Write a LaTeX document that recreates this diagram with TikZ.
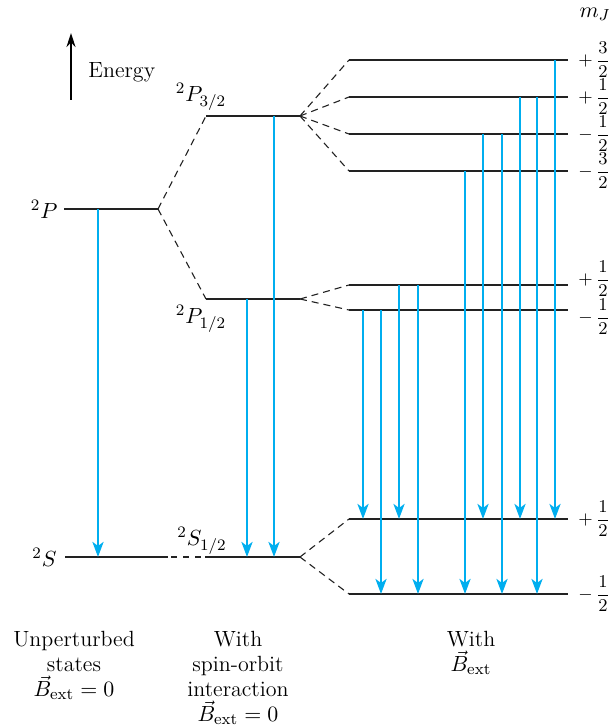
\documentclass[tikz,border=0pt]{standalone}
\usepackage{amsmath}
\usetikzlibrary{arrows.meta,positioning}
\definecolor{LineCyan}{HTML}{00AEEF}
\definecolor{LevelInk}{HTML}{222222}

\begin{document}
\begin{tikzpicture}[x=0.5pt, y=-0.5pt, node distance=3pt, every node/.style={font=\fontsize{11}{12.5}\selectfont, inner sep=0pt}]
\tikzstyle{level}=[draw=LevelInk, line width=0.8pt]
\tikzstyle{split}=[draw=LevelInk, line width=0.55pt, dash pattern=on 3.5pt off 2.5pt]
\tikzstyle{trans}=[draw=LineCyan, line width=1.4pt, -{Stealth[length=7.5pt,width=5.5pt,inset=2pt]}]
\tikzstyle{mjlab}=[font=\fontsize{9.5}{11}\selectfont]
\useasboundingbox (0,0) rectangle (610,727);
\coordinate (ebot) at (71,100);
\coordinate (etop) at (71,33);
\draw[line width=0.9pt, -{Stealth[length=7pt,width=4.5pt]}] (ebot) -- (etop);
\node[anchor=west] (energy) at (88,72) {Energy};
\coordinate (P) at (64,209);
\coordinate (P-e) at (158,209);
\coordinate (P32) at (206,116);
\coordinate (P32-e) at (300,116);
\coordinate (P12) at (206,299);
\coordinate (P12-e) at (300,299);
\coordinate (S) at (65,557);
\coordinate (S-e) at (168,557);
\coordinate (S12) at (205,557);
\coordinate (S12-e) at (300,557);
\coordinate (Ua) at (349,60);
\coordinate (Ua-e) at (568,60);
\coordinate (Ub) at (349,97);
\coordinate (Ub-e) at (568,97);
\coordinate (Uc) at (349,134);
\coordinate (Uc-e) at (568,134);
\coordinate (Ud) at (349,171);
\coordinate (Ud-e) at (568,171);
\coordinate (Ma) at (349,285);
\coordinate (Ma-e) at (568,285);
\coordinate (Mb) at (349,310);
\coordinate (Mb-e) at (568,310);
\coordinate (La) at (349,519);
\coordinate (La-e) at (568,519);
\coordinate (Lb) at (349,594);
\coordinate (Lb-e) at (568,594);
\draw[level] (P)--(P-e);
\draw[level] (P32)--(P32-e);
\draw[level] (P12)--(P12-e);
\draw[level] (S)--(S-e);
\draw[level] (S12)--(S12-e);
\draw[level] (Ua)--(Ua-e);
\draw[level] (Ub)--(Ub-e);
\draw[level] (Uc)--(Uc-e);
\draw[level] (Ud)--(Ud-e);
\draw[level] (Ma)--(Ma-e);
\draw[level] (Mb)--(Mb-e);
\draw[level] (La)--(La-e);
\draw[level] (Lb)--(Lb-e);
\draw[split] (P-e)--(P32);
\draw[split] (P-e)--(P12);
\draw[split, dash pattern=on 3pt off 3pt, dash phase=4.5pt] (S-e)--(S12);
\draw[split] (P32-e)--(Ua);
\draw[split] (P32-e)--(Ub);
\draw[split] (P32-e)--(Uc);
\draw[split] (P32-e)--(Ud);
\draw[split] (P12-e)--(Ma);
\draw[split] (P12-e)--(Mb);
\draw[split] (S12-e)--(La);
\draw[split] (S12-e)--(Lb);
\draw[trans] (P -| 98,0)--(S -| 98,0);
\draw[trans] (P12 -| 247,0)--(S12 -| 247,0);
\draw[trans] (P32 -| 274,0)--(S12 -| 274,0);
\draw[trans] (Mb -| 363,0)--(La -| 363,0);
\draw[trans] (Mb -| 381,0)--(Lb -| 381,0);
\draw[trans] (Ma -| 399,0)--(La -| 399,0);
\draw[trans] (Ma -| 418,0)--(Lb -| 418,0);
\draw[trans] (Ud -| 465,0)--(Lb -| 465,0);
\draw[trans] (Uc -| 483,0)--(La -| 483,0);
\draw[trans] (Uc -| 502,0)--(Lb -| 502,0);
\draw[trans] (Ub -| 520,0)--(La -| 520,0);
\draw[trans] (Ub -| 537,0)--(Lb -| 537,0);
\draw[trans] (Ua -| 555,0)--(La -| 555,0);
\node[left=3pt of P] (lP) {$^2P$};
\node[left=4pt of S] (lS) {$^2S$};
\node (lP32) at (201,97) {$^2P_{3/2}$};
\node (lP12) at (201,319) {$^2P_{1/2}$};
\node (lS12) at (202,541) {$^2S_{1/2}$};
\node (mj) at (595,14) {$m_J$};
\node[mjlab, right=5pt of Ua-e] (mUa) {$+\,\dfrac{3}{2}$};
\node[mjlab, right=5pt of Ub-e] (mUb) {$+\,\dfrac{1}{2}$};
\node[mjlab, right=5pt of Uc-e] (mUc) {$-\,\dfrac{1}{2}$};
\node[mjlab, right=5pt of Ud-e] (mUd) {$-\,\dfrac{3}{2}$};
\node[mjlab, right=5pt of Ma-e, yshift=3pt] (mMa) {$+\,\dfrac{1}{2}$};
\node[mjlab, right=5pt of Mb-e, yshift=-3.5pt] (mMb) {$-\,\dfrac{1}{2}$};
\node[mjlab, right=5pt of La-e] (mLa) {$+\,\dfrac{1}{2}$};
\node[mjlab, right=5pt of Lb-e] (mLb) {$-\,\dfrac{1}{2}$};
\node[anchor=north, align=center] (unpert) at (74,631) {Unperturbed\\states\\$\vec{B}_{\mathrm{ext}}=0$};
\node[anchor=north, align=center] (spinorb) at (238,631) {With\\spin-orbit\\interaction\\$\vec{B}_{\mathrm{ext}}=0$};
\node[anchor=north, align=center] (zeeman) at (471,631) {With\\$\vec{B}_{\mathrm{ext}}$};
\end{tikzpicture}
\end{document}
